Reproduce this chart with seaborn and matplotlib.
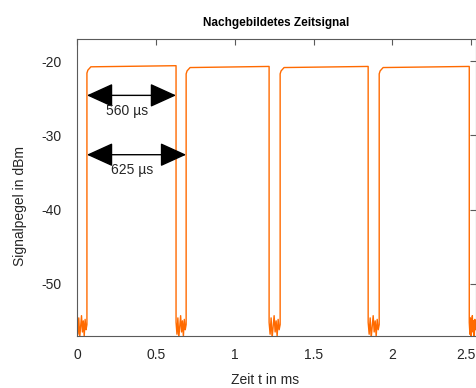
"""Nachgebildetes Zeitsignal
=============================================
Pulsed time signal with marked pulse width and period.
"""

import numpy as np
import seaborn as sns
from matplotlib import pyplot as plt
from matplotlib.transforms import ScaledTranslation

sns.set_style("white")
plt.rcParams['font.family'] = ['Liberation Sans', 'DejaVu Sans']
plt.rcParams['axes.unicode_minus'] = False

###############################################################################
# Signal data
rise_ms = [0.063, 0.692, 1.288, 1.916]
fall_ms = [0.628, 1.218, 1.846, 2.487]
high_dbm = [-20.6, -20.7, -20.7, -20.7]
t_end_ms = 2.53
low_noise_dbm = [-55.2, -56.8, -54.6, -57.3, -55.8, -54.3,
                 -56.5, -55.0, -57.1, -54.8, -56.2, -55.5]

xticks = [0, 0.5, 1, 1.5, 2, 2.5]
yticks = [-50, -40, -30, -20]

# Build the trace: noisy floor in the gaps, flat top during the pulses
gap_starts = [0.0] + fall_ms
gap_ends = rise_ms + [t_end_ms]
t, level = [], []
for i, (g0, g1) in enumerate(zip(gap_starts, gap_ends)):
    t += list(np.linspace(g0, g1, len(low_noise_dbm)))
    level += low_noise_dbm
    if i < len(rise_ms):
        hi = high_dbm[i]
        t += [rise_ms[i], rise_ms[i] + 0.006, rise_ms[i] + 0.025, fall_ms[i]]
        level += [hi - 1.0, hi - 0.6, hi - 0.15, hi]

orange = "#FF6A00"
dark = "#262626"
spine_grey = "#5a5a5a"
fs = 10

###############################################################################
fig = plt.figure(figsize=(4.77, 3.88), dpi=100)
ax = fig.add_axes([0.1614, 0.1348, 0.8366, 0.7647])

sns.lineplot(x=t, y=level, sort=False, estimator=None,
             color=orange, linewidth=1.0, ax=ax)

# Pulse width / period markers
arrows = [
    (rise_ms[0], fall_ms[0], -24.6, "560 µs"),
    (rise_ms[0], rise_ms[1], -32.6, "625 µs"),
]
for x0, x1, y, label in arrows:
    ax.annotate(
        "", xy=(x1, y), xytext=(x0, y),
        arrowprops=dict(arrowstyle="<|-|>,head_length=1.1,head_width=0.5",
                        mutation_scale=15, color="black", lw=1.0,
                        shrinkA=0, shrinkB=0),
    )
    ax.text((x0 + x1) / 2 - 0.03, y - 2.1, label, ha="center", va="center",
            fontsize=fs, color=dark)

ax.set_xlim(0, t_end_ms)
ax.set_ylim(-57, -17)
ax.set_xticks(xticks)
ax.set_xticklabels([f"{v:g}" for v in xticks])
ax.set_yticks(yticks)
ax.tick_params(direction="in", length=4, width=0.8, color=spine_grey,
               labelcolor=dark, labelsize=fs, top=True, right=True)
ax.tick_params(axis="x", pad=9)
ax.tick_params(axis="y", pad=11)
for spine in ax.spines.values():
    spine.set_visible(True)
    spine.set_color(spine_grey)
    spine.set_linewidth(0.8)

# keep the last x tick label inside the figure
last = ax.get_xticklabels()[-1]
last.set_transform(last.get_transform()
                   + ScaledTranslation(-5 / 100, 0, fig.dpi_scale_trans))

ax.set_xlabel("Zeit t in ms", fontsize=fs, color=dark)
ax.set_ylabel("Signalpegel in dBm", fontsize=fs, color=dark)
ax.xaxis.set_label_coords(0.471, -0.125)
ax.yaxis.set_label_coords(-0.125, 0.438)
ax.set_title("Nachgebildetes Zeitsignal", fontsize=8.5, fontweight="bold",
             color="black", pad=9)

fig.savefig("out.png", dpi=100)
